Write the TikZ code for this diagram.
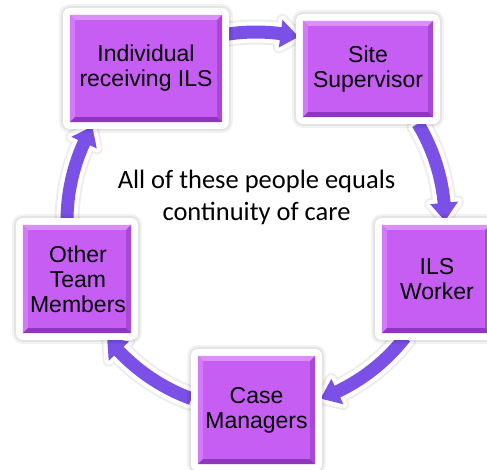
\documentclass[tikz,border=0pt]{standalone}
\usepackage{fontspec}
\newfontfamily\arialf{Liberation Sans}
\newfontfamily\calib{Carlito}
\definecolor{boxfill}{RGB}{198,94,244}
\definecolor{bevtop}{RGB}{220,142,250}
\definecolor{bevleft}{RGB}{210,122,248}
\definecolor{bevright}{RGB}{168,72,214}
\definecolor{bevbot}{RGB}{142,54,188}
\definecolor{arrowfill}{RGB}{122,80,230}
\tikzset{
 cyclebox/.style={fill=boxfill, inner sep=0pt, align=center,
   font=\arialf\fontsize{23}{25}\selectfont,
   preaction={draw=black, draw opacity=0.05, line width=22pt, line join=round},
   preaction={draw=black, draw opacity=0.06, line width=18pt, line join=round},
   preaction={draw=white, line width=14pt, line join=round}},
 boxlabel/.style={align=center, inner sep=0pt, font=\arialf\fontsize{23}{25}\selectfont},
 arrowshape/.style={fill=arrowfill,
   preaction={draw=black, draw opacity=0.07, line width=12pt, line join=round},
   preaction={draw=white, line width=8pt, line join=round}},
 centertext/.style={align=center, font=\calib\fontsize{26.5}{32}\selectfont}
}
\newcommand\bevel[2]{%
 \fill[bevtop] (#1.north west) -- (#1.north east) -- ([shift={(-#2,-#2)}]#1.north east) -- ([shift={(#2,-#2)}]#1.north west) -- cycle;
 \fill[bevleft] (#1.north west) -- (#1.south west) -- ([shift={(#2,#2)}]#1.south west) -- ([shift={(#2,-#2)}]#1.north west) -- cycle;
 \fill[bevright] (#1.north east) -- (#1.south east) -- ([shift={(-#2,#2)}]#1.south east) -- ([shift={(-#2,-#2)}]#1.north east) -- cycle;
 \fill[bevbot] (#1.south west) -- (#1.south east) -- ([shift={(-#2,#2)}]#1.south east) -- ([shift={(#2,#2)}]#1.south west) -- cycle;
}
\begin{document}
\begin{tikzpicture}[x=1pt,y=1pt]
\useasboundingbox (0,0) rectangle (487,-469);
\coordinate (C) at (256,-221);
\foreach \a/\b in {99/77, 31/0, -38/-70, -110/-142, 180/150} {
 \pgfmathsetmacro\h{\b+5.5}
 \path[arrowshape] ([shift={(C)}]\a:195.5pt) arc[start angle=\a, end angle=\h, radius=195.5pt]
   -- ([shift={(C)}]\h:203pt) -- ([shift={(C)}]\b:189pt) -- ([shift={(C)}]\h:175pt)
   -- ([shift={(C)}]\h:182.5pt) arc[start angle=\h, end angle=\a, radius=182.5pt] -- cycle;
}
\node[cyclebox, minimum width=152pt, minimum height=107pt] (b1) at (146,-68.5) {};
\node[cyclebox, minimum width=130pt, minimum height=96pt] (b2) at (368,-69) {};
\node[cyclebox, minimum width=108pt, minimum height=108pt] (b3) at (436,-279) {};
\node[cyclebox, minimum width=117pt, minimum height=108pt] (b4) at (256.5,-410) {};
\node[cyclebox, minimum width=108pt, minimum height=108pt] (b5) at (77,-279) {};
\foreach \n in {b1,b2,b3,b4,b5} {\bevel{\n}{5pt}}
\node[boxlabel] (t1) at (b1) {Individual\\receiving ILS};
\node[boxlabel] (t2) at (b2) {Site\\Supervisor};
\node[boxlabel] (t3) at ([xshift=1pt]b3) {ILS\\Worker};
\node[boxlabel] (t4) at (b4) {Case\\Managers};
\node[boxlabel] (t5) at ([xshift=1pt]b5) {Other\\Team\\Members};
\node[centertext] (txt) at (256.5,-197) {All of these people equals\\continuity of care};
\end{tikzpicture}
\end{document}
